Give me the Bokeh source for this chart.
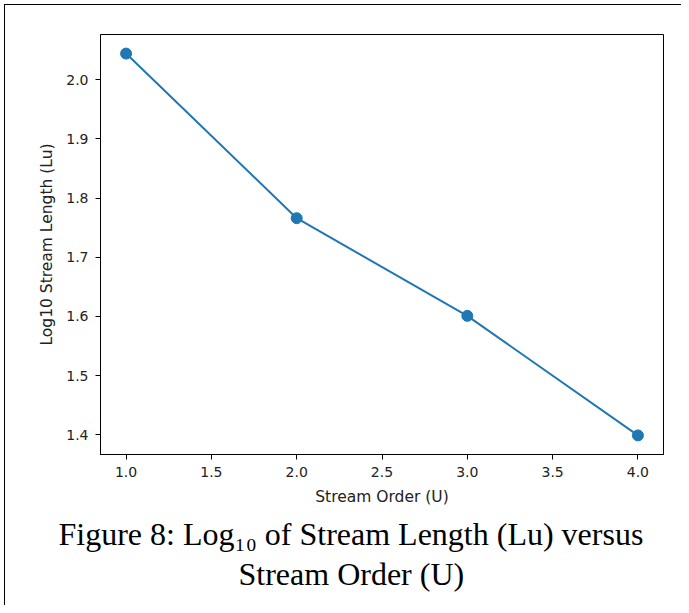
from bokeh.plotting import figure
from bokeh.models import FixedTicker, NumeralTickFormatter, Range1d, Title
from bokeh.embed import file_html
from bokeh.resources import INLINE

stream_order = [1, 2, 3, 4]
log_length = [2.044, 1.766, 1.601, 1.399]
x_ticks = [1.0, 1.5, 2.0, 2.5, 3.0, 3.5, 4.0]
y_ticks = [1.4, 1.5, 1.6, 1.7, 1.8, 1.9, 2.0]
caption_1 = "Figure 8: Log\u2081\u2080 of Stream Length (Lu) versus"
caption_2 = "Stream Order (U)"

xpad = (max(stream_order) - min(stream_order)) * 0.05
ypad = (max(log_length) - min(log_length)) * 0.05

page_border = ("linear-gradient(#000,#000) 4px 4px / 1px 100% no-repeat, "
               "linear-gradient(#000,#000) 4px 4px / 100% 1px no-repeat, #fff")

p = figure(width=681, height=605, output_backend="svg", toolbar_location=None,
           x_range=Range1d(min(stream_order) - xpad, max(stream_order) + xpad),
           y_range=Range1d(min(log_length) - ypad, max(log_length) + ypad),
           min_border_left=100, min_border_right=18, min_border_top=34,
           min_border_bottom=151,
           styles={"background": page_border})
p.border_fill_color = None
p.background_fill_color = "#ffffff"

p.grid.visible = False
p.outline_line_color = "#000000"
p.outline_line_width = 1
p.outline_line_alpha = 1

for ax in (p.xaxis[0], p.yaxis[0]):
    ax.axis_line_color = "#000000"
    ax.major_tick_line_color = "#000000"
    ax.major_tick_out = 5
    ax.major_tick_in = 0
    ax.minor_tick_line_color = None
    ax.major_label_text_font = "DejaVu Sans"
    ax.major_label_text_font_size = "14px"
    ax.major_label_text_color = "#222222"
    ax.axis_label_text_font = "DejaVu Sans"
    ax.axis_label_text_font_size = "15.5px"
    ax.axis_label_text_font_style = "normal"
    ax.axis_label_text_color = "#222222"
    ax.major_label_standoff = 7

p.xaxis.ticker = FixedTicker(ticks=x_ticks)
p.yaxis.ticker = FixedTicker(ticks=y_ticks)
p.xaxis.formatter = NumeralTickFormatter(format="0.0")
p.yaxis.formatter = NumeralTickFormatter(format="0.0")
p.xaxis.axis_label = "Stream Order (U)"
p.yaxis.axis_label = "Log10 Stream Length (Lu)"
p.xaxis.axis_label_standoff = 8
p.yaxis.axis_label_standoff = 7

p.line(stream_order, log_length, line_color="#1f77b4", line_width=2)
p.scatter(stream_order, log_length, size=11, fill_color="#1f77b4",
          line_color="#1f77b4")

for txt, so, off in ((caption_1, 10, -42), (caption_2, -6, 138)):
    p.add_layout(Title(text=txt, align="left", offset=off, standoff=so,
                       text_font="Liberation Serif", text_font_size="32px",
                       text_font_style="normal", text_color="#000000"), "below")

open("out.html", "w").write(file_html(p, INLINE))
